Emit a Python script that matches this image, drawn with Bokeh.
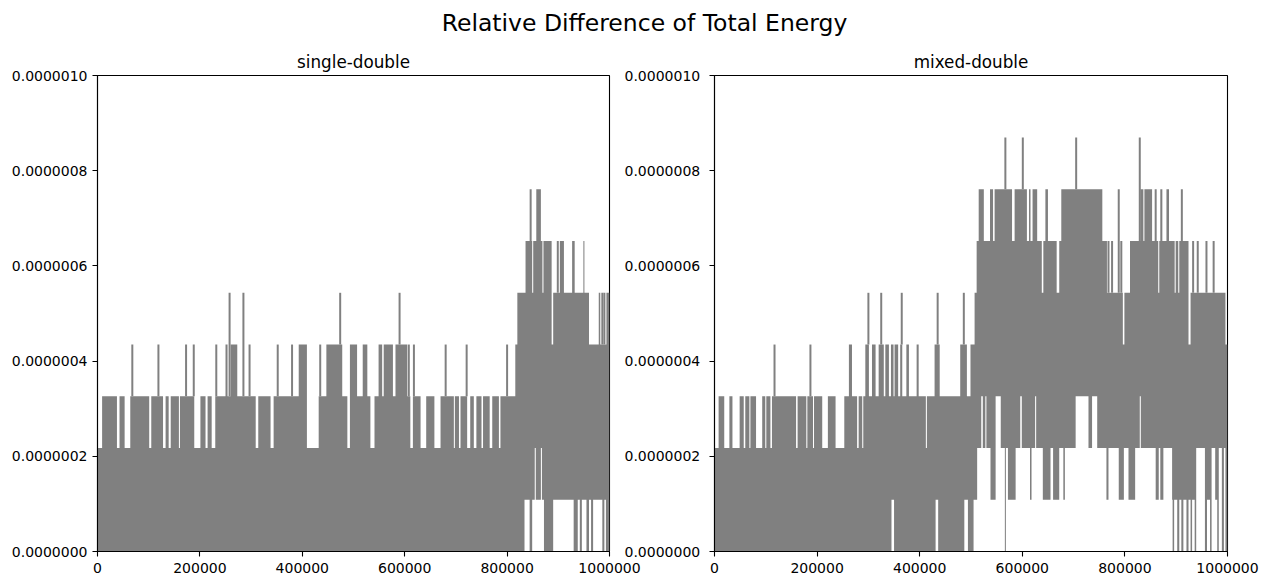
from bisect import bisect_right
from bokeh.plotting import figure
from bokeh.layouts import column, row
from bokeh.models import (Range1d, FixedTicker, PrintfTickFormatter, NumeralTickFormatter,
                          LinearAxis, Label, CustomJSTickFormatter)
from bokeh.embed import file_html
from bokeh.resources import INLINE

# ---------------- data ----------------
SUPTITLE = "Relative Difference of Total Energy"
PANEL_TITLES = ["single-double", "mixed-double"]
X_TICKS = [0, 200000, 400000, 600000, 800000, 1000000]
Y_TICKS = [0.0, 2e-7, 4e-7, 6e-7, 8e-7, 1e-6]
X_MAX = 1000000
Y_MAX = 1e-6
KSTEP = 1000  # the x values below are given in thousands of steps

# the quantised values the relative difference takes
LEVELS = [0.0, 1.087e-7, 2.174e-7, 3.261e-7, 4.348e-7, 5.435e-7, 6.522e-7, 7.609e-7, 8.696e-7]

# single-double: upper envelope (run start, level index)
SD_TOP_X = [0, 9, 38, 43, 53, 64, 101, 105, 128, 133, 139, 143, 159, 161, 189, 201, 211, 215, 223, 230,
            250, 254, 260, 273, 309, 314, 338, 344, 393, 409, 432, 447, 478, 488, 493, 507, 518, 527, 533,
            541, 549, 556, 559, 577, 582, 605, 611, 616, 631, 642, 658, 670, 696, 698, 706, 709, 722, 728,
            735, 740, 750, 753, 766, 771, 784, 787, 816, 820, 836, 849, 851, 857, 866, 869, 871, 887, 890,
            903, 911, 927, 932, 949, 951, 960, 979, 982, 994]
SD_TOP_LV = [2, 3, 2, 3, 2, 3, 2, 3, 2, 3, 2, 3, 2, 3, 2, 3, 2, 3, 2, 3,
             4, 3, 4, 3, 2, 3, 2, 3, 4, 2, 3, 4, 3, 2, 4, 3, 4, 3, 2,
             3, 4, 3, 4, 3, 4, 3, 2, 3, 2, 3, 2, 3, 2, 3, 2, 3, 2, 3,
             2, 3, 2, 3, 2, 3, 2, 3, 4, 5, 6, 5, 6, 7, 6, 5, 6, 4, 5,
             6, 5, 6, 5, 6, 5, 4, 5, 4, 5]
# single-double: lower envelope
SD_BOT_X = [0, 834, 844, 849, 854, 856, 866, 868, 872, 890, 930, 938, 942, 946, 955, 960, 964, 968, 986, 990, 993]
SD_BOT_LV = [0, 1, 0, 1, 2, 1, 2, 1, 0, 1, 0, 1, 0, 1, 0, 1, 0, 1, 0, 1, 0]
# single-double: isolated peaks
SD_SPIKE_X = [68, 119, 173, 188, 232, 297, 352, 380, 435, 608, 618, 680, 721, 800,
              258, 285, 474, 590, 986, 990, 899, 846]
SD_SPIKE_LV = [4, 4, 4, 4, 4, 4, 4, 4, 4, 4, 4, 4, 4, 4,
               5, 5, 5, 5, 5, 5, 6, 7]

# mixed-double: upper envelope
MD_TOP_X = [0, 8, 19, 29, 35, 49, 57, 60, 68, 70, 81, 93, 99, 101, 109, 112, 159, 162, 179, 181,
            192, 194, 210, 221, 236, 253, 262, 268, 278, 281, 288, 290, 294, 301, 307, 314, 320, 330, 333, 340,
            344, 349, 351, 358, 362, 366, 374, 379, 394, 398, 412, 414, 429, 439, 479, 492, 499, 507, 511, 515,
            525, 537, 543, 546, 580, 585, 609, 613, 616, 620, 629, 638, 641, 645, 650, 667, 672, 676, 756, 765,
            796, 799, 810, 830, 836, 838, 853, 865, 867, 869, 873, 881, 886, 897, 899, 904, 906, 924, 928, 996]
MD_TOP_LV = [2, 3, 2, 3, 2, 3, 2, 3, 2, 3, 2, 3, 2, 3, 2, 3, 2, 3, 2, 3,
             2, 3, 2, 3, 2, 3, 4, 3, 2, 3, 2, 3, 4, 3, 4, 3, 4, 3, 4, 3,
             4, 3, 4, 3, 4, 3, 4, 3, 4, 3, 2, 3, 4, 3, 4, 3, 4, 5, 6, 7,
             6, 7, 6, 7, 6, 7, 6, 7, 6, 7, 6, 5, 6, 7, 6, 5, 6, 7, 6, 5,
             4, 5, 6, 7, 6, 7, 6, 5, 6, 7, 6, 7, 6, 5, 6, 5, 6, 4, 5, 4]
# mixed-double: lower envelope
MD_BOT_X = [0, 345, 350, 431, 436, 487, 494, 505, 512, 520, 523, 528, 530, 538, 548, 558, 566, 568, 572, 587,
            596, 599, 615, 618, 625, 627, 640, 655, 660, 672, 680, 683, 704, 729, 736, 746, 764, 768, 788, 798,
            807, 820, 829, 831, 860, 866, 869, 875, 892, 893, 896, 902, 906, 910, 914, 920, 924, 928, 931, 936,
            939, 956, 960, 966, 969, 976, 980, 983, 989, 993, 996]
MD_BOT_LV = [0, 1, 0, 1, 0, 1, 0, 1, 2, 3, 2, 3, 2, 1, 3, 2, 0, 2, 1, 2,
             3, 2, 1, 2, 3, 2, 1, 2, 1, 2, 1, 2, 3, 2, 3, 2, 1, 2, 1, 2,
             1, 2, 3, 2, 1, 2, 1, 2, 1, 0, 1, 0, 1, 0, 1, 0, 1, 0, 1, 0,
             2, 0, 1, 0, 2, 1, 0, 2, 0, 2, 0]
# mixed-double: isolated peaks
MD_SPIKE_X = [117, 187, 300, 325, 365, 435, 486, 768, 775, 793, 933, 942, 959, 973,
              788, 860, 911, 567, 601, 705, 829]
MD_SPIKE_LV = [4, 4, 5, 5, 5, 5, 5, 6, 6, 6, 6, 6, 6, 6,
               7, 7, 7, 8, 8, 8, 8]

# ---------------- styling ----------------
FONT = "DejaVu Sans"
GRAY = "#808080"
TICK_FS = "14px"
FRAME_H = 476


def level_at(xs, lvs, x):
    return lvs[bisect_right(xs, x) - 1]


def band(top_x, top_lv, bot_x, bot_lv):
    xs = sorted(set(top_x) | set(bot_x))
    lo = [LEVELS[level_at(bot_x, bot_lv, x)] for x in xs]
    hi = [LEVELS[level_at(top_x, top_lv, x)] for x in xs]
    xs = [x * KSTEP for x in xs] + [X_MAX]
    lo.append(lo[-1])
    hi.append(hi[-1])
    return xs, lo, hi


def style_axes(p):
    for ax in (p.xaxis[0], p.yaxis[0]):
        ax.axis_line_color = "black"
        ax.axis_line_width = 1.1
        ax.major_tick_line_color = "black"
        ax.major_tick_line_width = 1.1
        ax.major_tick_out = 5
        ax.major_tick_in = 0
        ax.minor_tick_line_color = None
        ax.major_label_text_font = FONT
        ax.major_label_text_font_size = TICK_FS
        ax.major_label_text_color = "black"
    p.xaxis.ticker = FixedTicker(ticks=X_TICKS, minor_ticks=[])
    p.xaxis.formatter = NumeralTickFormatter(format="0")
    p.xaxis.major_label_standoff = 6
    p.yaxis.ticker = FixedTicker(ticks=Y_TICKS, minor_ticks=[])
    p.yaxis.major_label_standoff = 5


def panel(title, top_x, top_lv, bot_x, bot_lv, sp_x, sp_lv, fw, bl, br):
    p = figure(frame_width=fw, frame_height=FRAME_H, x_range=Range1d(0, X_MAX), y_range=Range1d(0, Y_MAX),
               toolbar_location=None, output_backend="svg", title=title,
               min_border_left=bl, min_border_right=br, min_border_top=35, min_border_bottom=10)
    p.grid.visible = False
    p.outline_line_color = "black"
    p.outline_line_width = 1.1
    p.background_fill_color = "white"
    p.border_fill_color = "white"
    p.title.align = "center"
    p.title.text_font = FONT
    p.title.text_font_size = "16.8px"
    p.title.text_font_style = "normal"
    p.title.text_color = "black"
    p.title.standoff = 8

    xs, lo, hi = band(top_x, top_lv, bot_x, bot_lv)
    p.varea_step(x=xs, y1=lo, y2=hi, step_mode="after", fill_color=GRAY)

    sx = [x * KSTEP for x in sp_x]
    y0 = [LEVELS[level_at(top_x, top_lv, x)] for x in sp_x]
    y1 = [LEVELS[lv] for lv in sp_lv]
    p.segment(x0=sx, y0=y0, x1=sx, y1=y1, line_color=GRAY, line_width=2)
    style_axes(p)
    return p


p1 = panel(PANEL_TITLES[0], SD_TOP_X, SD_TOP_LV, SD_BOT_X, SD_BOT_LV, SD_SPIKE_X, SD_SPIKE_LV, 512, 97, 99)
p1.yaxis.formatter = PrintfTickFormatter(format="%.7f")

p2 = panel(PANEL_TITLES[1], MD_TOP_X, MD_TOP_LV, MD_BOT_X, MD_BOT_LV, MD_SPIKE_X, MD_SPIKE_LV, 513, 6, 32)
p2.yaxis.formatter = CustomJSTickFormatter(code="return ''")
p2.yaxis.major_label_standoff = 0

# tick labels of the right panel's y axis, drawn in the gap between the panels
rax = LinearAxis(ticker=FixedTicker(ticks=Y_TICKS, minor_ticks=[]),
                 formatter=PrintfTickFormatter(format="%.7f"))
rax.axis_line_color = None
rax.major_tick_line_color = None
rax.minor_tick_line_color = None
rax.major_tick_out = 0
rax.major_tick_in = 0
rax.major_label_standoff = 15
rax.major_label_text_font = FONT
rax.major_label_text_font_size = TICK_FS
rax.major_label_text_color = "black"
p1.add_layout(rax, "right")

# overall title
TW, TH = 1259, 40
pt = figure(width=TW, height=TH, x_range=Range1d(0, TW), y_range=Range1d(0, TH),
            toolbar_location=None, output_backend="svg", x_axis_location=None, y_axis_location=None,
            min_border=0)
pt.grid.visible = False
pt.outline_line_color = None
pt.add_layout(Label(x=644, y=18, text=SUPTITLE, text_align="center", text_baseline="middle",
                    text_font=FONT, text_font_size="23.5px", text_color="black"))

layout = column(pt, row(p1, p2, spacing=0), spacing=0)
open("out.html", "w").write(file_html(layout, INLINE))
